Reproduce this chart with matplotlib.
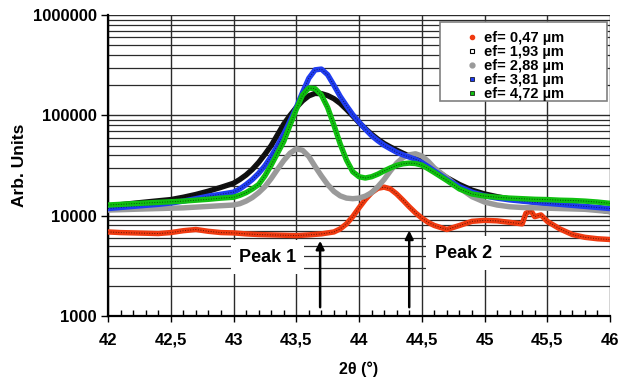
import numpy as np
import matplotlib
matplotlib.use('Agg')
import matplotlib.pyplot as plt
from matplotlib.patches import Rectangle
from matplotlib.lines import Line2D
from matplotlib.ticker import MultipleLocator, FuncFormatter, LogLocator

plt.rcParams['font.family'] = ['Liberation Sans', 'DejaVu Sans']
plt.rcParams['font.weight'] = 'bold'

# 2theta positions (deg) shared by the thicker films
two_theta = [42.0, 42.1, 42.2, 42.3, 42.4, 42.5, 42.6, 42.7, 42.8, 42.9,
             43.0, 43.05, 43.1, 43.15, 43.2, 43.25, 43.3, 43.35, 43.4, 43.45,
             43.5, 43.55, 43.6, 43.65, 43.7, 43.75, 43.8, 43.85, 43.9, 43.95,
             44.0, 44.05, 44.1, 44.15, 44.2, 44.25, 44.3, 44.35, 44.4, 44.45,
             44.5, 44.55, 44.6, 44.7, 44.8, 44.9, 45.0, 45.1, 45.2, 45.3,
             45.4, 45.5, 45.6, 45.7, 45.8, 45.9, 46.0]

ef_193 = [12500, 12900, 13300, 13700, 14100, 14500, 15300, 16300, 17600, 19200,
          21100, 23000, 25500, 29000, 34000, 41000, 50000, 64000, 82000, 100000,
          120000, 140000, 157000, 166000, 165000, 158000, 147000, 132000, 115000, 99000,
          85000, 74000, 65000, 58000, 52500, 48500, 45000, 42000, 39500, 37500,
          35500, 32000, 29000, 24000, 20500, 18000, 16500, 15500, 14700, 14200,
          13700, 13300, 12900, 12500, 12100, 11600, 11000]

ef_288 = [11400, 11500, 11600, 11700, 11800, 11900, 12000, 12200, 12400, 12600,
          12800, 13200, 14000, 15200, 17000, 19500, 23500, 29000, 35500, 42000,
          46500, 45000, 39000, 31000, 25000, 20500, 17500, 15800, 15000, 14800,
          15000, 15700, 17000, 19500, 23000, 28000, 33500, 38000, 40500, 41500,
          39500, 35000, 30000, 24000, 19000, 15500, 13700, 12800, 12300, 12100,
          12000, 11900, 11800, 11700, 11600, 11300, 11000]

ef_381 = [11800, 12100, 12400, 12700, 13000, 13400, 14000, 14800, 15700, 16400,
          17200, 18500, 20500, 23000, 26500, 31500, 39000, 50000, 65000, 88000,
          120000, 170000, 235000, 285000, 290000, 255000, 200000, 155000, 125000, 102000,
          86000, 73000, 63000, 56000, 50500, 46500, 43000, 40500, 38500, 36500,
          34000, 31000, 28000, 23000, 19500, 17200, 15800, 15000, 14400, 14000,
          13600, 13300, 13000, 12700, 12400, 12100, 11800]

ef_472 = [12800, 13000, 13200, 13400, 13600, 13800, 14000, 14300, 14600, 15000,
          15300, 16000, 17000, 18500, 20500, 25000, 32000, 42000, 55000, 80000,
          115000, 160000, 188000, 185000, 160000, 120000, 80000, 52000, 36000, 27500,
          24500, 23800, 24500, 26000, 28000, 30000, 31800, 33000, 33500, 33200,
          32000, 29500, 27000, 22500, 18500, 16500, 15700, 15300, 15000, 14800,
          14600, 14500, 14300, 14200, 14000, 13700, 13300]

# thinnest film has its own sampling (small spike near 45.35)
two_theta_047 = [42.0, 42.1, 42.2, 42.3, 42.4, 42.5, 42.6, 42.7, 42.8, 42.9,
                 43.0, 43.1, 43.2, 43.3, 43.4, 43.5, 43.6, 43.7, 43.8, 43.85,
                 43.9, 43.95, 44.0, 44.05, 44.1, 44.15, 44.2, 44.25, 44.3, 44.35,
                 44.4, 44.45, 44.5, 44.55, 44.6, 44.7, 44.8, 44.9, 45.0, 45.1,
                 45.2, 45.3, 45.33, 45.37, 45.4, 45.45, 45.5, 45.6, 45.7, 45.8,
                 45.9, 46.0]
ef_047 = [6900, 6800, 6750, 6700, 6650, 6800, 7100, 7300, 7000, 6800,
          6750, 6600, 6500, 6450, 6400, 6350, 6450, 6600, 6900, 7400,
          8300, 9800, 12000, 14500, 17000, 18800, 19300, 18500, 16500, 14300,
          12300, 10700, 9500, 8600, 8000, 7300, 8000, 8800, 9000, 8900,
          8600, 8300, 10600, 11200, 9800, 10200, 8800, 7400, 6500, 6100,
          5900, 5800]

labels = ['ef= 0,47 µm', 'ef= 1,93 µm', 'ef= 2,88 µm', 'ef= 3,81 µm', 'ef= 4,72 µm']
colors = ['#f03a10', '#111111', '#9a9a9a', '#1f3cf0', '#10c010']

fig = plt.figure(figsize=(6.19, 3.79), dpi=100)
ax = fig.add_axes([0.1745, 0.166, 0.811, 0.794])

ax.set_yscale('log')
ax.set_xlim(42, 46)
ax.set_ylim(1000, 1000000)

# grid
ax.xaxis.set_major_locator(MultipleLocator(0.5))
ax.xaxis.set_minor_locator(MultipleLocator(0.1))
ax.yaxis.set_major_locator(LogLocator(base=10, numticks=10))
ax.yaxis.set_minor_locator(LogLocator(base=10, subs=np.arange(2, 10), numticks=20))
ax.grid(True, which='major', axis='both', color='#2a2a2a', lw=1.0)
ax.grid(True, which='minor', axis='y', color='#2a2a2a', lw=0.9)
ax.set_axisbelow(True)

series = [(two_theta_047, ef_047), (two_theta, ef_193), (two_theta, ef_288),
          (two_theta, ef_381), (two_theta, ef_472)]
for i, ((xs, ys), c) in enumerate(zip(series, colors)):
    ax.plot(xs, ys, color=c, lw=3.9, solid_capstyle='round', solid_joinstyle='round', zorder=3)
    if i != 2:
        ax.plot(xs, ys, color='k', lw=0.7, ls=':', zorder=3, alpha=0.6)

ax.xaxis.set_major_formatter(FuncFormatter(lambda v, p: ('%g' % v).replace('.', ',')))
ax.yaxis.set_major_formatter(FuncFormatter(lambda v, p: '%d' % round(v)))
ax.yaxis.set_minor_formatter(FuncFormatter(lambda v, p: ''))
ax.tick_params(axis='x', which='major', direction='out', length=4, width=1, labelsize=12, pad=8)
ax.tick_params(axis='x', which='minor', direction='in', length=4, width=1)
ax.tick_params(axis='y', which='major', direction='out', length=5, width=1, labelsize=12, pad=3)
ax.tick_params(axis='y', which='minor', length=0)
for lab in ax.get_xticklabels() + ax.get_yticklabels():
    lab.set_fontweight('bold')

for s in ['top', 'right']:
    ax.spines[s].set_visible(False)
for s in ['left', 'bottom']:
    ax.spines[s].set_linewidth(1.6)

ax.set_ylabel('Arb. Units', fontsize=12.5, fontweight='bold', labelpad=4)
ax.set_xlabel('2θ (°)', fontsize=11.5, fontweight='bold', labelpad=10)

# peak annotations
box = dict(facecolor='white', edgecolor='none', pad=6)
ax.text(43.27, 3870, 'Peak 1', fontsize=13, fontweight='bold', ha='center', va='center', bbox=box, zorder=4)
ax.text(44.83, 4250, 'Peak 2', fontsize=13, fontweight='bold', ha='center', va='center', bbox=box, zorder=4)
ax.annotate('', xy=(43.69, 6000), xytext=(43.69, 1150),
            arrowprops=dict(arrowstyle='-|>', color='k', lw=1.8, mutation_scale=12), zorder=5)
ax.annotate('', xy=(44.40, 7600), xytext=(44.40, 1150),
            arrowprops=dict(arrowstyle='-|>', color='k', lw=1.8, mutation_scale=12), zorder=5)

# legend: wide frame drawn separately, entries placed inside it
ax.add_patch(Rectangle((0.661, 0.714), 0.333, 0.263, transform=ax.transAxes,
                       facecolor='white', edgecolor='#808080', lw=1.2, zorder=6))
handles = [
    Line2D([], [], ls='none', marker='o', ms=3, mfc=colors[0], mec=colors[0]),
    Line2D([], [], ls='none', marker='s', ms=3.5, mfc='white', mec='k', mew=0.8),
    Line2D([], [], ls='none', marker='o', ms=3.5, mfc=colors[2], mec=colors[2]),
    Line2D([], [], ls='none', marker='s', ms=3.5, mfc=colors[3], mec='k', mew=0.5),
    Line2D([], [], ls='none', marker='s', ms=3.5, mfc=colors[4], mec='k', mew=0.5),
]
leg = ax.legend(handles, labels, loc='upper left', bbox_to_anchor=(0.688, 0.985),
                frameon=False, labelspacing=0.0, handletextpad=0.3, handlelength=1.0,
                borderpad=0.3, prop={'weight': 'bold', 'size': 10.5})
leg.set_zorder(7)

fig.savefig('out.png', dpi=100)
